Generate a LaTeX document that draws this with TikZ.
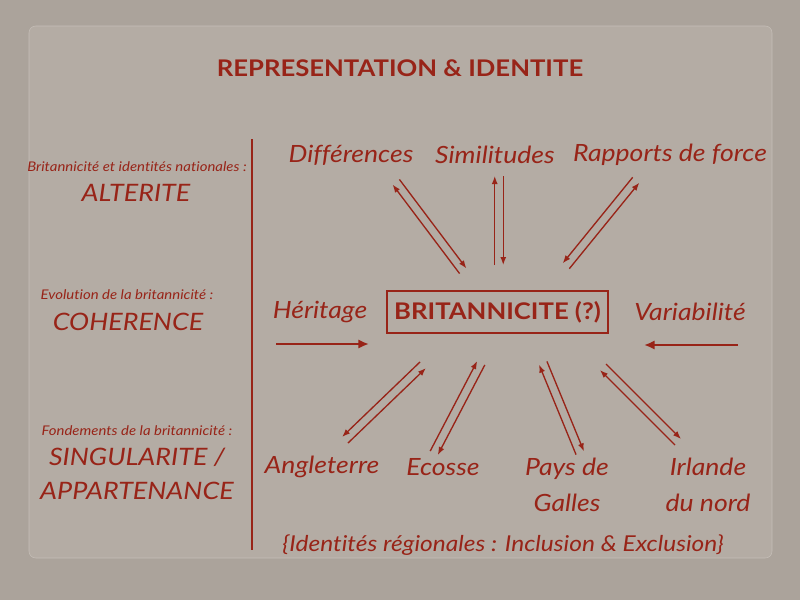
\documentclass[tikz,border=0pt]{standalone}
\usepackage{fontspec}
\setmainfont{Lato}[FakeStretch=1.12, Ligatures=NoCommon]
\usetikzlibrary{arrows.meta,calc}
\definecolor{carton}{RGB}{171,163,155}
\definecolor{panneau}{RGB}{180,172,164}
\definecolor{rouge}{RGB}{152,36,24}
\newcommand{\allerretour}[3]{%
  \draw[fleche] ($(#2)!3.2pt!#3:(#1)$) -- ($(#1)!-3.2pt!#3:(#2)$);
  \draw[fleche] ($(#1)!3.2pt!#3:(#2)$) -- ($(#2)!-3.2pt!#3:(#1)$);}
\begin{document}
\begin{tikzpicture}[x=0.75pt,y=-0.75pt,
    fleche/.style={rouge, line width=1pt, -{Latex[length=6pt,width=4.5pt]}},
    grosse/.style={rouge, line width=2pt, -{Latex[length=8pt,width=7pt]}},
    titre/.style={text=rouge, inner sep=0pt, font=\fontsize{17.2}{22}\selectfont\bfseries},
    mot/.style={text=rouge, inner sep=0pt, align=center, font=\fontsize{17.8}{27}\selectfont\itshape},
    petit/.style={text=rouge, inner sep=0pt, font=\fontsize{10}{13}\selectfont\itshape},
    grand/.style={text=rouge, inner sep=0pt, align=center, font=\fontsize{18}{25.5}\selectfont\itshape}]
\fill[carton] (0,0) rectangle (800,600);
\useasboundingbox (0,0) rectangle (800,600);
\draw[rounded corners=5pt, fill=panneau, draw=white!22!panneau] (29,26) rectangle (772,558);

\node[titre] (titre) at (400,68) {REPRESENTATION \& IDENTITE};

\node[petit] (alt-t) at (137,167) {Britannicité et identités nationales :};
\node[grand] (alt) at (136,193) {ALTERITE};
\node[petit] (coh-t) at (127,295) {Evolution de la britannicité :};
\node[grand] (coh) at (128,322) {COHERENCE};
\node[petit] (fon-t) at (137,431) {Fondements de la britannicité :};
\node[grand] (fon) at (137,474) {SINGULARITE /\\APPARTENANCE};
\draw[rouge, line width=2.2pt] (252,139) -- (252,550);

\node[mot] (dif) at (351,155) {Différences};
\node[mot] (sim) at (495,155) {Similitudes};
\node[mot] (rap) at (670,155) {Rapports de force};
\node[mot] (her) at (320,312) {Héritage};
\node[draw=rouge, line width=1.1pt, minimum width=165.75pt, minimum height=31.5pt,
      titre] (brit) at (497.5,312) {BRITANNICITE (?)};
\node[mot] (var) at (690,312) {Variabilité};
\node[mot] (ang) at (322,467) {Angleterre};
\node[mot] (eco) at (443,467) {Ecosse};
\node[mot] (pdg) at (567,485) {Pays de\\Galles};
\node[mot] (irl) at (708,485) {Irlande\\du nord};
\node[mot, font=\fontsize{16.4}{20}\selectfont\itshape] (reg) at (503,545)
  {\{Identités régionales : Inclusion \& Exclusion\}};

\coordinate (dif-o) at (396,182);
\coordinate (dif-i) at (463,271);
\coordinate (sim-o) at (499,176);
\coordinate (sim-i) at (499,265);
\coordinate (rap-o) at (636,180);
\coordinate (rap-i) at (566,266);
\coordinate (ang-o) at (345,440);
\coordinate (ang-i) at (423,365);
\coordinate (eco-o) at (434,453);
\coordinate (eco-i) at (481,363);
\coordinate (pdg-o) at (580,453);
\coordinate (pdg-i) at (543,363);
\coordinate (irl-o) at (678,442);
\coordinate (irl-i) at (603,367);
\coordinate (her-a) at (276,344);
\coordinate (her-b) at (369,344);
\coordinate (var-a) at (738,345);
\coordinate (var-b) at (644,345);

\allerretour{dif-o}{dif-i}{90}
\allerretour{sim-o}{sim-i}{90}
\allerretour{rap-o}{rap-i}{-90}
\allerretour{ang-o}{ang-i}{-90}
\allerretour{eco-o}{eco-i}{90}
\allerretour{pdg-o}{pdg-i}{90}
\allerretour{irl-o}{irl-i}{90}
\draw[grosse] (her-a) -- (her-b);
\draw[grosse] (var-a) -- (var-b);
\end{tikzpicture}
\end{document}
